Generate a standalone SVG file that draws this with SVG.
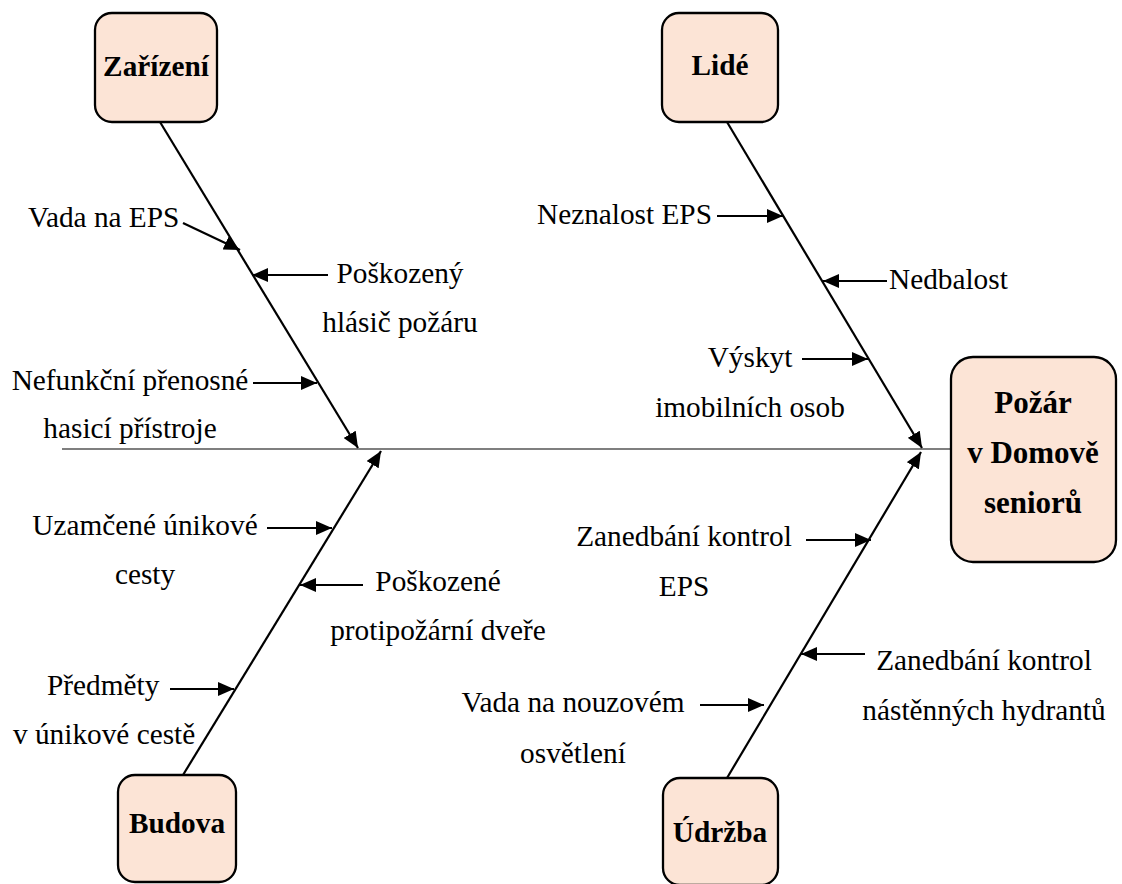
<svg xmlns="http://www.w3.org/2000/svg" width="1122" height="884" viewBox="0 0 1122 884">
<style>
.box{fill:#FCE4D6;stroke:#000;stroke-width:2.3}
.nt{font-family:"Liberation Serif","Times New Roman",serif;font-weight:bold;font-size:29.3px;fill:#000;text-anchor:middle}
.big{font-size:31px}
.lt{font-family:"Liberation Serif","Times New Roman",serif;font-size:29.3px;fill:#000}
.m{text-anchor:middle}
.bone{stroke:#000;stroke-width:2.2;fill:none}
.sub{stroke:#000;stroke-width:2.2;fill:none}
.spine{stroke:#000;stroke-width:1.2;fill:none}
</style>
<defs>
<marker id="ah" markerUnits="userSpaceOnUse" markerWidth="16" markerHeight="14" refX="16" refY="7" orient="auto">
<path d="M0,0 L16,7 L0,14 z" fill="#000"/>
</marker>
</defs>
<g id="connectors">
<line class="spine" x1="62" y1="449" x2="951" y2="449"/>
<line class="bone" x1="160" y1="122" x2="358" y2="448" marker-end="url(#ah)"/>
<line class="bone" x1="727" y1="122" x2="922" y2="448" marker-end="url(#ah)"/>
<line class="bone" x1="183" y1="775" x2="381" y2="451" marker-end="url(#ah)"/>
<line class="bone" x1="727" y1="778" x2="921" y2="452" marker-end="url(#ah)"/>
<line class="sub" x1="183" y1="223" x2="240" y2="250" marker-end="url(#ah)"/>
<line class="sub" x1="328" y1="275" x2="252" y2="275" marker-end="url(#ah)"/>
<line class="sub" x1="253" y1="383" x2="317" y2="383" marker-end="url(#ah)"/>
<line class="sub" x1="267" y1="528" x2="332" y2="528" marker-end="url(#ah)"/>
<line class="sub" x1="363" y1="585" x2="300" y2="585" marker-end="url(#ah)"/>
<line class="sub" x1="170" y1="689" x2="234" y2="689" marker-end="url(#ah)"/>
<line class="sub" x1="717" y1="216" x2="783" y2="216" marker-end="url(#ah)"/>
<line class="sub" x1="887" y1="281" x2="823" y2="281" marker-end="url(#ah)"/>
<line class="sub" x1="802" y1="359" x2="868" y2="359" marker-end="url(#ah)"/>
<line class="sub" x1="806" y1="540" x2="871" y2="540" marker-end="url(#ah)"/>
<line class="sub" x1="865" y1="654" x2="801" y2="654" marker-end="url(#ah)"/>
<line class="sub" x1="700" y1="705" x2="764" y2="705" marker-end="url(#ah)"/>
</g>
<g id="node-zarizeni">
<rect class="box" x="95" y="13" width="122" height="109" rx="17"/>
<text class="nt" x="156" y="76">Zařízení</text>
</g>
<g id="node-lide">
<rect class="box" x="662" y="13" width="116" height="109" rx="17"/>
<text class="nt" x="720" y="75">Lidé</text>
</g>
<g id="node-budova">
<rect class="box" x="118" y="775" width="118" height="107" rx="17"/>
<text class="nt" x="177" y="833">Budova</text>
</g>
<g id="node-udrzba">
<rect class="box" x="663" y="778" width="115" height="107" rx="17"/>
<text class="nt" x="720" y="842">Údržba</text>
</g>
<g id="node-pozar">
<rect class="box" x="951" y="357" width="165" height="205" rx="22"/>
<text class="nt big" x="1033" y="413">Požár</text>
<text class="nt big" x="1033" y="463">v Domově</text>
<text class="nt big" x="1033" y="513">seniorů</text>
</g>
<g id="labels">
<text class="lt" x="28" y="227">Vada na EPS</text>
<text class="lt m" x="400" y="283">Poškozený</text>
<text class="lt m" x="400" y="332">hlásič požáru</text>
<text class="lt m" x="130" y="390">Nefunkční přenosné</text>
<text class="lt m" x="130" y="438">hasicí přístroje</text>
<text class="lt m" x="145" y="535">Uzamčené únikové</text>
<text class="lt m" x="145" y="584">cesty</text>
<text class="lt m" x="438" y="591">Poškozené</text>
<text class="lt m" x="438" y="640">protipožární dveře</text>
<text class="lt" x="47" y="695">Předměty</text>
<text class="lt" x="13" y="744">v únikové cestě</text>
<text class="lt" x="537" y="224">Neznalost EPS</text>
<text class="lt" x="889" y="289">Nedbalost</text>
<text class="lt m" x="750" y="367">Výskyt</text>
<text class="lt m" x="750" y="417">imobilních osob</text>
<text class="lt m" x="684" y="546">Zanedbání kontrol</text>
<text class="lt m" x="684" y="596">EPS</text>
<text class="lt m" x="984" y="670">Zanedbání kontrol</text>
<text class="lt m" x="984" y="720">nástěnných hydrantů</text>
<text class="lt m" x="573" y="712">Vada na nouzovém</text>
<text class="lt m" x="573" y="763">osvětlení</text>
</g>
</svg>
